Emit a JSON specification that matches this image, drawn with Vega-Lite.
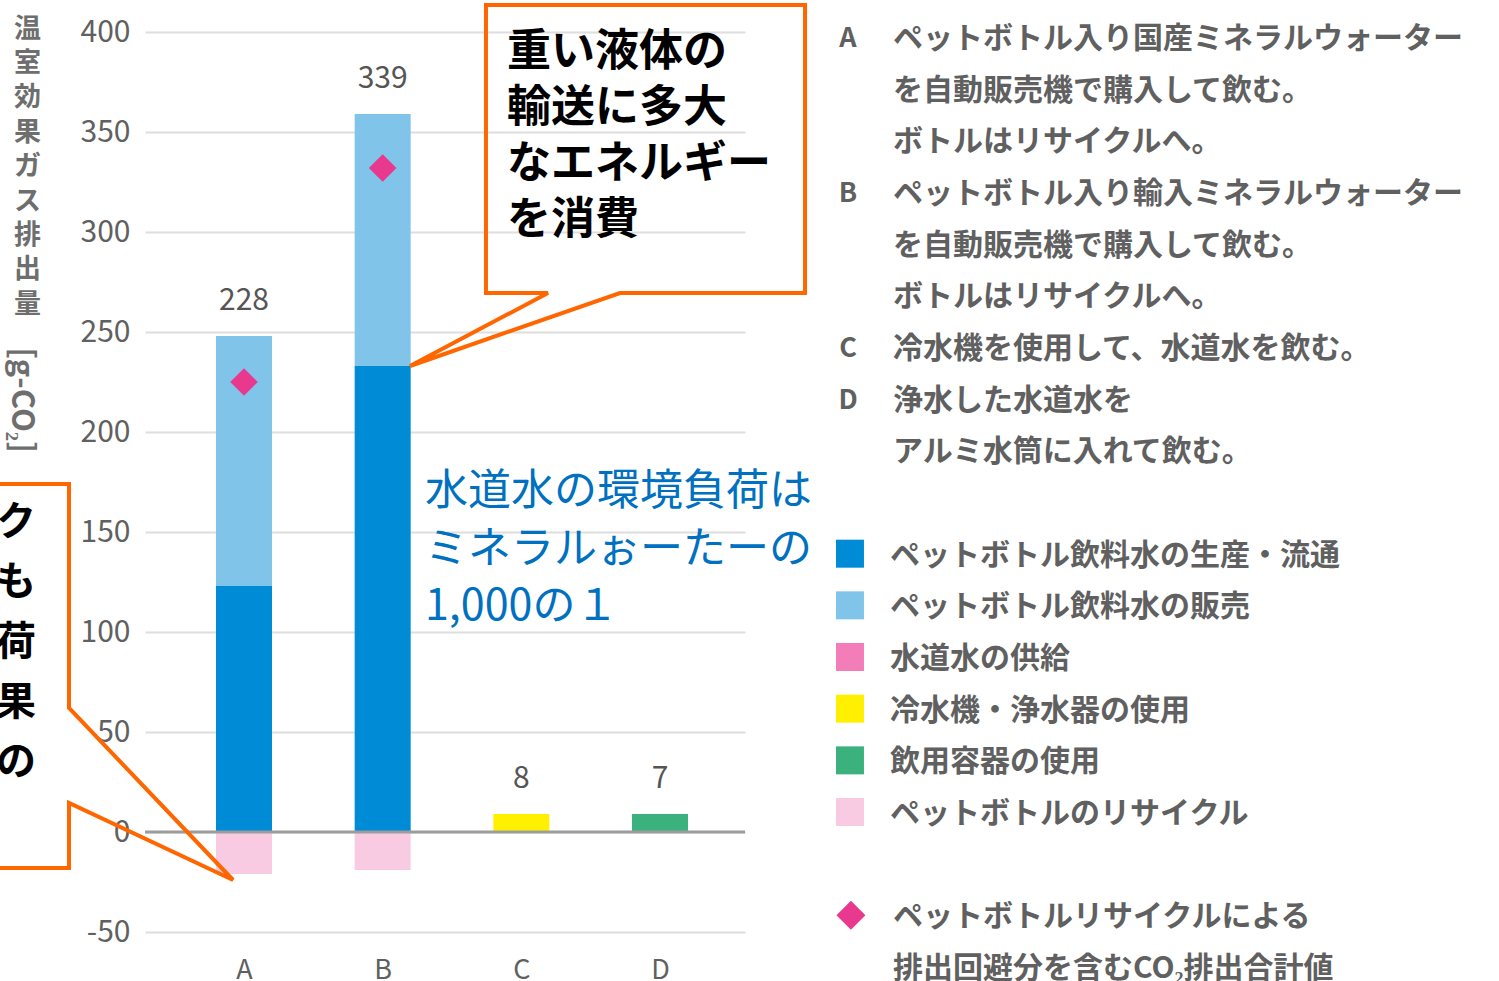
{
  "$schema": "https://vega.github.io/schema/vega-lite/v6.json",
  "width": 600,
  "height": 900,
  "autosize": {"type": "none"},
  "padding": {"left": 145, "top": 32, "right": 754, "bottom": 49},
  "background": "white",
  "config": {
    "view": {"stroke": null},
    "font": "Noto Sans CJK JP"
  },
  "datasets": {
    "bars": [
      {"cat": "A", "n": 1, "component": "ペットボトル飲料水の生産・流通", "ord": 1, "value": 123},
      {"cat": "A", "n": 1, "component": "ペットボトル飲料水の販売", "ord": 2, "value": 125},
      {"cat": "A", "n": 1, "component": "ペットボトルのリサイクル", "ord": 6, "value": -21},
      {"cat": "B", "n": 2, "component": "ペットボトル飲料水の生産・流通", "ord": 1, "value": 233},
      {"cat": "B", "n": 2, "component": "ペットボトル飲料水の販売", "ord": 2, "value": 126},
      {"cat": "B", "n": 2, "component": "ペットボトルのリサイクル", "ord": 6, "value": -19},
      {"cat": "C", "n": 3, "component": "冷水機・浄水器の使用", "ord": 4, "value": 9},
      {"cat": "D", "n": 4, "component": "飲用容器の使用", "ord": 5, "value": 9}
    ],
    "totals": [
      {"cat": "A", "n": 1, "label": "228", "top": 248, "marker": 225},
      {"cat": "B", "n": 2, "label": "339", "top": 359, "marker": 332},
      {"cat": "C", "n": 3, "label": "8", "top": 9, "marker": null},
      {"cat": "D", "n": 4, "label": "7", "top": 9, "marker": null}
    ],
    "callouts": [
      {"shape": "top", "i": 0, "x": 2.745, "y": 413.5},
      {"shape": "top", "i": 1, "x": 5.046, "y": 413.5},
      {"shape": "top", "i": 2, "x": 5.046, "y": 269.5},
      {"shape": "top", "i": 3, "x": 3.711, "y": 269.5},
      {"shape": "top", "i": 4, "x": 2.197, "y": 233},
      {"shape": "top", "i": 5, "x": 3.192, "y": 269.5},
      {"shape": "top", "i": 6, "x": 2.745, "y": 269.5},
      {"shape": "left", "i": 0, "x": -0.904, "y": 174},
      {"shape": "left", "i": 1, "x": -0.262, "y": 174},
      {"shape": "left", "i": 2, "x": -0.262, "y": 62},
      {"shape": "left", "i": 3, "x": 0.921, "y": -24},
      {"shape": "left", "i": 4, "x": -0.262, "y": 14.5},
      {"shape": "left", "i": 5, "x": -0.262, "y": -18},
      {"shape": "left", "i": 6, "x": -0.904, "y": -18}
    ],
    "notes": [
      {"row": 0, "key": "A", "text": "ペットボトル入り国産ミネラルウォーター"},
      {"row": 1, "key": "", "text": "を自動販売機で購入して飲む。"},
      {"row": 2, "key": "", "text": "ボトルはリサイクルへ。"},
      {"row": 3, "key": "B", "text": "ペットボトル入り輸入ミネラルウォーター"},
      {"row": 4, "key": "", "text": "を自動販売機で購入して飲む。"},
      {"row": 5, "key": "", "text": "ボトルはリサイクルへ。"},
      {"row": 6, "key": "C", "text": "冷水機を使用して、水道水を飲む。"},
      {"row": 7, "key": "D", "text": "浄水した水道水を"},
      {"row": 8, "key": "", "text": "アルミ水筒に入れて飲む。"},
      {"row": 17, "key": "", "text": "ペットボトルリサイクルによる"},
      {"row": 18, "key": "", "text": "排出回避分を含むCO₂排出合計値"}
    ],
    "legendRows": [
      {"row": 10, "component": "ペットボトル飲料水の生産・流通"},
      {"row": 11, "component": "ペットボトル飲料水の販売"},
      {"row": 12, "component": "水道水の供給"},
      {"row": 13, "component": "冷水機・浄水器の使用"},
      {"row": 14, "component": "飲用容器の使用"},
      {"row": 15, "component": "ペットボトルのリサイクル"}
    ]
  },
  "layer": [
    {
      "layer": [
        {
          "data": {"name": "bars"},
          "mark": {"type": "bar", "width": 56},
          "encoding": {
            "x": {
              "field": "n", "type": "quantitative",
              "scale": {"domain": [0.286, 4.613], "nice": false, "zero": false, "padding": 0},
              "axis": {
                "values": [1, 2, 3, 4],
                "labelExpr": "['A','B','C','D'][datum.value - 1]",
                "title": null, "grid": false, "domain": false, "ticks": false, "tickSize": 0,
                "labelFontSize": 27, "labelColor": "#606060", "labelPadding": 25,
                "labelFont": "Noto Sans CJK JP"
              }
            },
            "y": {
              "field": "value", "type": "quantitative", "stack": "zero",
              "scale": {"domain": [-50, 400], "nice": false, "zero": false},
              "axis": {
                "values": [-50, 0, 50, 100, 150, 200, 250, 300, 350, 400],
                "labelExpr": "replace(datum.label, '−', '-')",
                "title": ["温", "室", "効", "果", "ガ", "ス", "排", "出", "量"],
                "titleAngle": 0, "titleAlign": "center", "titleBaseline": "middle",
                "titleX": -118, "titleY": -3, "titleLineHeight": 34.4,
                "titleFontSize": 27, "titleFontWeight": "bold", "titleColor": "#6e6e6e",
                "grid": true, "gridColor": "#dedede", "gridWidth": 2,
                "domain": false, "ticks": false, "tickSize": 0,
                "labelFontSize": 30, "labelColor": "#606060", "labelPadding": 15
              }
            },
            "color": {
              "field": "component", "type": "nominal",
              "scale": {
                "domain": ["ペットボトル飲料水の生産・流通", "ペットボトル飲料水の販売", "水道水の供給", "冷水機・浄水器の使用", "飲用容器の使用", "ペットボトルのリサイクル"],
                "range": ["#008bd6", "#80c4ea", "#f27db9", "#fff000", "#3bb27e", "#f8cbe3"]
              },
              "legend": null
            },
            "order": {"field": "ord", "type": "quantitative"}
          }
        },
        {
          "data": {"values": [{}]},
          "mark": {"type": "rule", "color": "#9c9c9c", "strokeWidth": 3},
          "encoding": {"y": {"datum": 0}}
        },
        {
          "data": {"name": "totals"},
          "mark": {"type": "point", "shape": "diamond", "filled": true, "size": 760, "color": "#e8398f", "opacity": 1},
          "encoding": {
            "x": {"field": "n", "type": "quantitative"},
            "y": {"field": "marker", "type": "quantitative"}
          }
        },
        {
          "data": {"name": "totals"},
          "mark": {"type": "text", "fontSize": 30, "color": "#555555", "baseline": "middle", "align": "center", "dy": -35},
          "encoding": {
            "x": {"field": "n", "type": "quantitative"},
            "y": {"field": "top", "type": "quantitative"},
            "text": {"field": "label"}
          }
        },
        {
          "data": {"values": [{"text": "[g-CO₂]"}]},
          "mark": {"type": "text", "angle": 90, "fontSize": 31, "fontWeight": "bold", "color": "#6e6e6e", "align": "center", "baseline": "middle"},
          "encoding": {
            "x": {"datum": -0.608},
            "y": {"datum": 216},
            "text": {"field": "text"}
          }
        },
        {
          "data": {"name": "callouts"},
          "mark": {"type": "line", "interpolate": "linear-closed", "color": "#ff6600", "strokeWidth": 4, "strokeJoin": "miter"},
          "encoding": {
            "x": {"field": "x", "type": "quantitative"},
            "y": {"field": "y", "type": "quantitative"},
            "detail": {"field": "shape"},
            "order": {"field": "i", "type": "quantitative"}
          }
        },
        {
          "data": {"values": [{"text": ["重い液体の", "輸送に多大", "なエネルギー", "を消費"]}]},
          "mark": {"type": "text", "fontSize": 44, "fontWeight": "bold", "color": "#000000", "align": "left", "baseline": "middle", "lineHeight": 56},
          "encoding": {
            "x": {"datum": 2.897},
            "y": {"datum": 389.5},
            "text": {"field": "text"}
          }
        },
        {
          "data": {"values": [{"text": ["ク", "も", "荷", "果", "の"]}]},
          "mark": {"type": "text", "fontSize": 40, "fontWeight": "bold", "color": "#000000", "align": "right", "baseline": "middle", "lineHeight": 60},
          "encoding": {
            "x": {"datum": -0.5},
            "y": {"datum": 154.5},
            "text": {"field": "text"}
          }
        },
        {
          "data": {"values": [{"text": ["水道水の環境負荷は", "ミネラルぉーたーの", "1,000の１"]}]},
          "mark": {"type": "text", "fontSize": 43, "color": "#0070c0", "align": "left", "baseline": "middle", "lineHeight": 57.5},
          "encoding": {
            "x": {"datum": 2.305},
            "y": {"datum": 170},
            "text": {"field": "text"}
          }
        }
      ]
    },
    {
      "layer": [
        {
          "data": {"name": "notes"},
          "transform": [{"filter": "datum.key != ''"}],
          "mark": {"type": "text", "fontSize": 27, "fontWeight": "bold", "color": "#606060", "align": "center", "baseline": "middle", "dy": 2},
          "encoding": {
            "x": {"datum": 5.356},
            "y": {"field": "row", "type": "quantitative", "scale": {"domain": [-0.0968, 17.322], "reverse": true, "nice": false, "zero": false}, "axis": null},
            "text": {"field": "key"}
          }
        },
        {
          "data": {"name": "notes"},
          "mark": {"type": "text", "fontSize": 30, "fontWeight": "bold", "color": "#606060", "align": "left", "baseline": "middle", "dy": 2},
          "encoding": {
            "x": {"datum": 5.680},
            "y": {"field": "row", "type": "quantitative", "axis": null},
            "text": {"field": "text"}
          }
        },
        {
          "data": {"name": "legendRows"},
          "mark": {"type": "point", "shape": "square", "filled": true, "size": 784, "opacity": 1},
          "encoding": {
            "x": {"datum": 5.370},
            "y": {"field": "row", "type": "quantitative", "axis": null},
            "color": {"field": "component", "type": "nominal", "legend": null}
          }
        },
        {
          "data": {"name": "legendRows"},
          "mark": {"type": "text", "fontSize": 30, "fontWeight": "bold", "color": "#606060", "align": "left", "baseline": "middle", "dy": 2},
          "encoding": {
            "x": {"datum": 5.659},
            "y": {"field": "row", "type": "quantitative", "axis": null},
            "text": {"field": "component"}
          }
        },
        {
          "data": {"values": [{"row": 17}]},
          "mark": {"type": "point", "shape": "diamond", "filled": true, "size": 840, "color": "#e8398f", "opacity": 1},
          "encoding": {
            "x": {"datum": 5.377},
            "y": {"field": "row", "type": "quantitative", "axis": null}
          }
        }
      ]
    }
  ],
  "resolve": {"scale": {"y": "independent"}}
}
